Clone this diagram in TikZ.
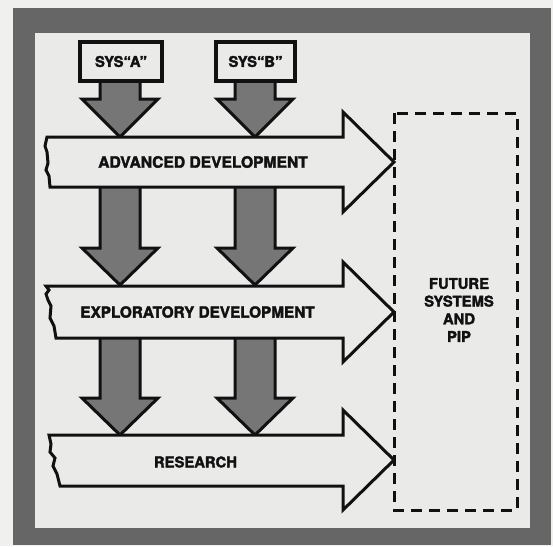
\documentclass[tikz,border=0pt]{standalone}
\usepackage{fontspec}
\setmainfont{TeX Gyre Heros}[BoldFeatures={FakeBold=2.2}]
\definecolor{paper}{HTML}{F0F0EF}
\definecolor{inner}{HTML}{EAEAE9}
\definecolor{framegrey}{HTML}{666666}
\definecolor{arrowgrey}{HTML}{767676}
\definecolor{ink}{HTML}{111111}
\tikzset{
  frameband/.style={fill=framegrey, draw=none},
  downarrow/.style={fill=arrowgrey, draw=ink, line width=3pt, line join=miter},
  flowarrow/.style={fill=inner, draw=ink, line width=3pt, line join=miter},
  sysbox/.style={fill=inner, draw=ink, line width=3.2pt},
  label/.style={font=\fontsize{14.8}{17.7}\selectfont\bfseries, text=ink, inner sep=0pt, align=center},
  dashedbox/.style={draw=ink, line width=3pt, dash pattern=on 11pt off 7pt}
}
\newcommand{\downarr}[4]{% cx, top, headstart, tip
  \draw[downarrow] (#1-20,#2) -- (#1+20,#2) -- (#1+20,#3) -- (#1+38,#3) -- (#1,#4)
    -- (#1-38,#3) -- (#1-20,#3) -- cycle;}
\begin{document}
\begin{tikzpicture}[x=1pt,y=-1pt]
\useasboundingbox (0,0) rectangle (553,546);
\fill[paper] (0,0) rectangle (553,546);
% frame
\fill[frameband] (13,8) rectangle (551,545);
\fill[inner] (35,33) rectangle (530,528);
% down arrows
\downarr{120}{75}{99}{137}
\downarr{255}{75}{99}{137}
\downarr{120}{180}{248}{285}
\downarr{255}{180}{248}{285}
\downarr{120}{330}{398}{435}
\downarr{255}{330}{398}{435}
% horizontal arrows
\draw[flowarrow] (47,137) -- (343,137) -- (343,112) -- (394,162) -- (343,212) -- (343,187)
  -- (50,187) -- (49,176) -- (46,170) -- (48,163) -- (47,152) -- (45,146) -- cycle;
\draw[flowarrow] (46,286) -- (343,286) -- (343,262) -- (394,312) -- (343,362) -- (343,338)
  -- (56,338) -- (54,326) -- (50,318) -- (51,306) -- (48,300) -- (46,294) -- (49,290) -- cycle;
\draw[flowarrow] (49,435) -- (343,435) -- (343,410) -- (394,460) -- (343,510) -- (343,486)
  -- (60,486) -- (57,474) -- (53,466) -- (55,458) -- (50,452) -- (51,444) -- cycle;
% system boxes
\node[sysbox, minimum width=82pt, minimum height=39pt, inner sep=0pt] (sysA) at (121,61.5) {};
\node[sysbox, minimum width=79pt, minimum height=39pt, inner sep=0pt] (sysB) at (255.5,61.5) {};
\node[label] (sysAt) at (sysA.center) {SYS“A”};
\node[label] (sysBt) at (sysB.center) {SYS“B”};
% labels
\node[label, font=\fontsize{15.6}{17.7}\selectfont\bfseries] (adv) at (203,162) {ADVANCED DEVELOPMENT};
\node[label, font=\fontsize{15.3}{17.7}\selectfont\bfseries] (expl) at (197.5,312) {EXPLORATORY DEVELOPMENT};
\node[label] (res) at (195.5,462) {RESEARCH};
% future box
\draw[dashedbox] (394,113) rectangle (517,510);
\node[label] (future) at (459,310) {FUTURE\\SYSTEMS\\AND\\PIP};
\end{tikzpicture}
\end{document}
